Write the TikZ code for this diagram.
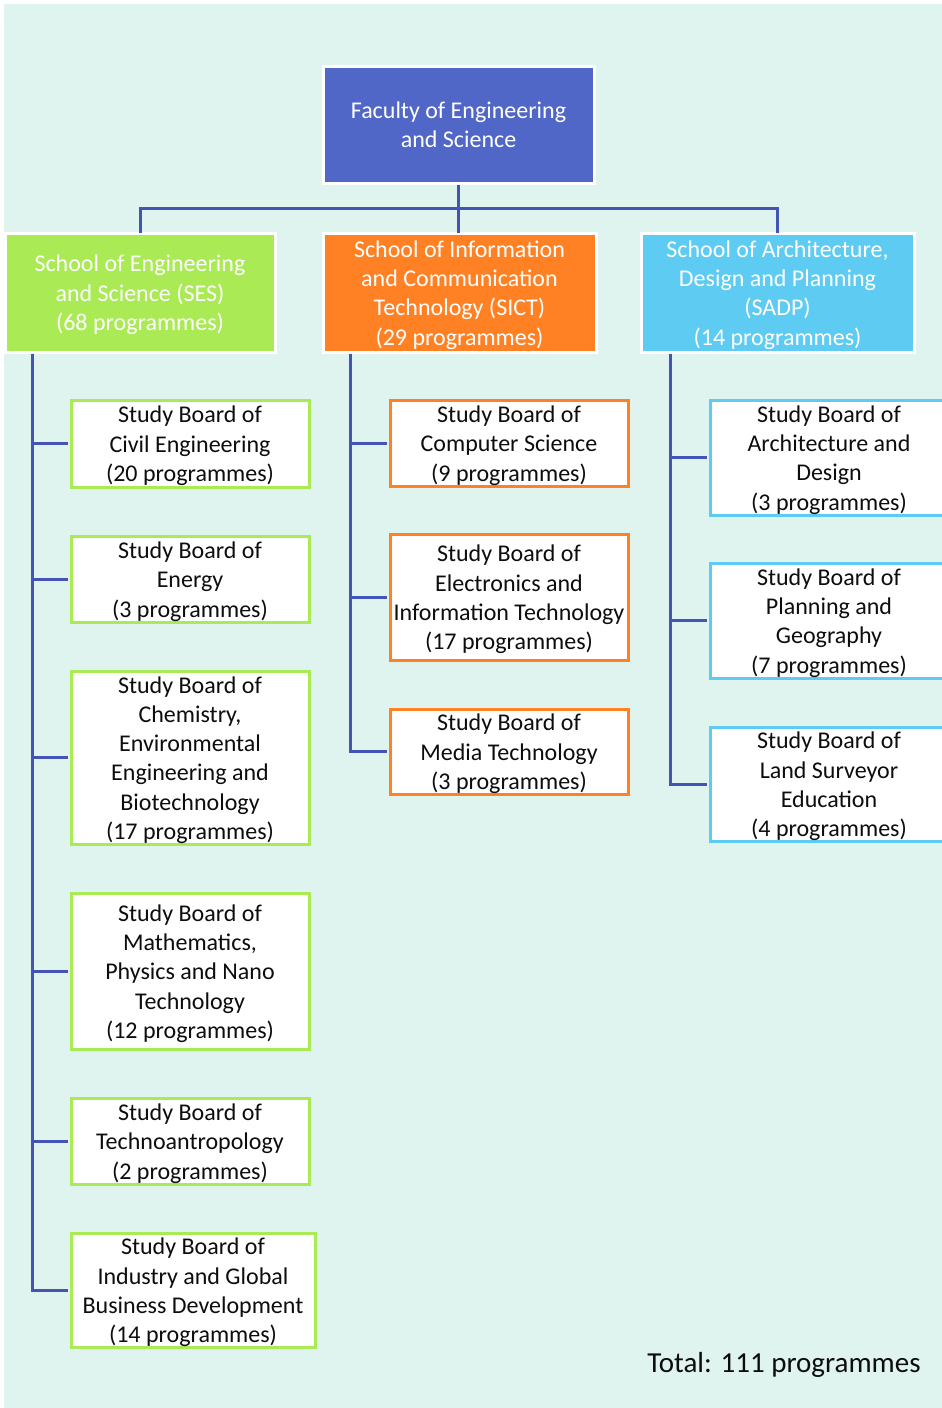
\documentclass[tikz,border=0pt]{standalone}
\usepackage{fontspec}
\setmainfont{Carlito}
\definecolor{bgc}{HTML}{DFF4EE}
\definecolor{facc}{HTML}{5067C8}
\definecolor{sesc}{HTML}{A9EA55}
\definecolor{sictc}{HTML}{FF8124}
\definecolor{sadpc}{HTML}{5ECBF3}
\definecolor{linec}{HTML}{4454B4}
\definecolor{txtc}{HTML}{0D0D0D}
\tikzset{
  topbox/.style={draw=white, line width=3pt, fill=#1, inner sep=0pt},
  toptext/.style={text=white, align=center, inner sep=0pt, yshift=-2.5pt,
    font=\fontsize{24}{29.3}\selectfont},
  board/.style={draw=#1, line width=3pt, fill=white, inner sep=0pt},
  btext/.style={text=txtc, align=center, inner sep=0pt, yshift=-2.5pt,
    font=\fontsize{24}{29.3}\selectfont},
  conn/.style={draw=linec, line width=3pt},
}
\begin{document}
\begin{tikzpicture}[x=1pt,y=-1pt]
\useasboundingbox (0,0) rectangle (942,1408);
\clip (0,0) rectangle (942,1408);
\fill[white] (0,0) rectangle (942,1408);
\fill[bgc] (4,4) rectangle (942,1408);

% faculty and schools
\node[topbox=facc, minimum width=271pt, minimum height=117pt,
  label={[toptext, yshift=2.5pt]center:{Faculty of Engineering\\and Science}}] (fac) at (458.5,124.5) {};
\node[topbox=sesc, minimum width=270pt, minimum height=119pt,
  label={[toptext]center:{School of Engineering\\and Science (SES)\\(68 programmes)}}] (ses) at (140,292.5) {};
\node[topbox=sictc, minimum width=273pt, minimum height=119pt,
  label={[toptext]center:{School of Information\\and Communication\\Technology (SICT)\\(29 programmes)}}] (sict) at (459.5,292.5) {};
\node[topbox=sadpc, minimum width=273pt, minimum height=119pt,
  label={[toptext]center:{School of Architecture,\\Design and Planning\\(SADP)\\(14 programmes)}}] (sadp) at (777.5,292.5) {};

% SES boards
\node[board=sesc, minimum width=238pt, minimum height=87pt,
  label={[btext]center:{Study Board of\\Civil Engineering\\(20 programmes)}}] (civil) at (190,443.5) {};
\node[board=sesc, minimum width=238pt, minimum height=86pt,
  label={[btext]center:{Study Board of\\Energy\\(3 programmes)}}] (energy) at (190,579) {};
\node[board=sesc, minimum width=238pt, minimum height=173pt,
  label={[btext]center:{Study Board of\\Chemistry,\\Environmental\\Engineering and\\Biotechnology\\(17 programmes)}}] (chem) at (190,757.5) {};
\node[board=sesc, minimum width=238pt, minimum height=156pt,
  label={[btext]center:{Study Board of\\Mathematics,\\Physics and Nano\\Technology\\(12 programmes)}}] (math) at (190,971) {};
\node[board=sesc, minimum width=238pt, minimum height=86pt,
  label={[btext]center:{Study Board of\\Technoantropology\\(2 programmes)}}] (techno) at (190,1141) {};
\node[board=sesc, minimum width=244pt, minimum height=114pt,
  label={[btext]center:{Study Board of\\Industry and Global\\Business Development\\(14 programmes)}}] (industry) at (193,1290) {};

% SICT boards
\node[board=sictc, minimum width=238pt, minimum height=86pt,
  label={[btext]center:{Study Board of\\Computer Science\\(9 programmes)}}] (cs) at (509,443) {};
\node[board=sictc, minimum width=238pt, minimum height=126pt,
  label={[btext]center:{Study Board of\\Electronics and\\Information Technology\\(17 programmes)}}] (elec) at (509,597) {};
\node[board=sictc, minimum width=238pt, minimum height=85pt,
  label={[btext]center:{Study Board of\\Media Technology\\(3 programmes)}}] (media) at (509,751.5) {};

% SADP boards
\node[board=sadpc, minimum width=238pt, minimum height=115pt,
  label={[btext]center:{Study Board of\\Architecture and\\Design\\(3 programmes)}}] (arch) at (829,457.5) {};
\node[board=sadpc, minimum width=238pt, minimum height=115pt,
  label={[btext]center:{Study Board of\\Planning and\\Geography\\(7 programmes)}}] (plan) at (829,620.5) {};
\node[board=sadpc, minimum width=238pt, minimum height=114pt,
  label={[btext]center:{Study Board of\\Land Surveyor\\Education\\(4 programmes)}}] (land) at (829,784) {};

% connectors
\coordinate (bus) at (458.5,208);
\draw[conn] (fac.south) -- (bus);
\draw[conn] ([yshift=-1.5pt]ses.north) |- (bus) -| ([yshift=-1.5pt]sadp.north);
\draw[conn] (bus) -- ([yshift=-1.5pt]bus |- sict.north);

\coordinate (sesT) at (32,353.5);
\coordinate (sictT) at (350,353.5);
\coordinate (sadpT) at (670,353.5);
\foreach \b in {civil,energy,chem,math,techno,industry}
  \draw[conn] (sesT) |- ([xshift=-1.5pt]\b.west);
\foreach \b in {cs,elec,media}
  \draw[conn] (sictT) |- ([xshift=-1.5pt]\b.west);
\foreach \b in {arch,plan,land}
  \draw[conn] (sadpT) |- ([xshift=-1.5pt]\b.west);

\node[anchor=center, text=txtc, font=\fontsize{29}{34}\selectfont, inner sep=0pt] (total) at (784,1365)
  {Total: 111 programmes};
\end{tikzpicture}
\end{document}
